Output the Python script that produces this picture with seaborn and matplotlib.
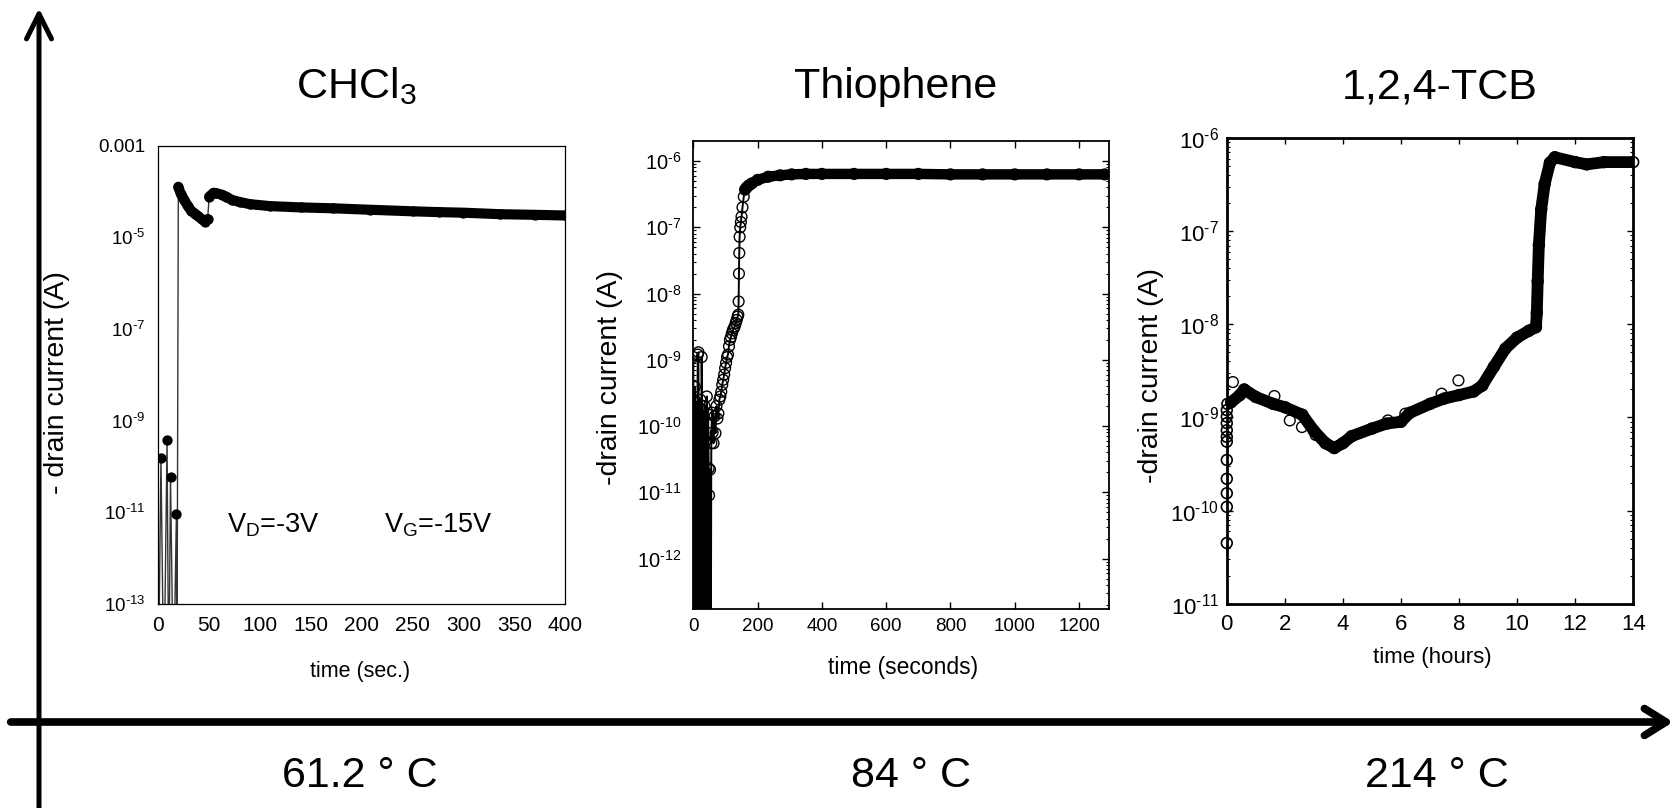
import matplotlib
matplotlib.use("Agg")
import matplotlib.pyplot as plt
from matplotlib.patches import FancyArrowPatch, ArrowStyle
from matplotlib.ticker import FixedLocator, FixedFormatter, NullLocator, LogLocator
import seaborn as sns

# ---------------- data ----------------
# CHCl3 panel: time (s), -drain current (A); 1e-15 = reading below the axis
chcl3_time = [0, 2.6, 5.5, 8.6, 10.3, 12.0, 14.9, 17.8, 18.3, 19.7, 22, 25.6, 29, 32.3, 36,
              39, 42.5, 45.8, 48.5, 50, 54.3, 57, 62.8, 67, 72, 80, 90, 110, 140, 172,
              208, 250, 276, 300, 336, 370, 400]
chcl3_current = [1e-15, 1.5e-10, 1e-15, 3.7e-10, 1e-15, 5.9e-11, 1e-15, 9.3e-12, 1e-15,
                 1.27e-4, 9e-5, 6.5e-5, 4.8e-5, 3.8e-5, 3.3e-5, 2.9e-5, 2.5e-5, 2.2e-5,
                 2.5e-5, 7.7e-5, 9.4e-5, 9.2e-5, 8.5e-5, 7.7e-5, 6.6e-5, 5.9e-5, 5.3e-5,
                 4.8e-5, 4.5e-5, 4.3e-5, 4.0e-5, 3.7e-5, 3.55e-5, 3.45e-5, 3.2e-5, 3.1e-5,
                 3.0e-5]
chcl3_trace_ranges = [(19.0, 48.6), (49.5, 401)]

# Thiophene panel: time (s), -drain current (A)
thio_time = [0, 2, 3, 4, 5, 7, 8, 9, 11, 12, 14, 16, 18, 20, 22, 24, 26, 27, 29, 31, 33,
             35, 38, 40, 42, 44, 46, 48, 49, 51, 52, 54, 56, 58, 60, 63, 66, 69, 72, 75,
             78, 81, 84, 87, 90, 93, 96, 99, 102, 105, 108, 111, 114, 117, 120, 123, 126,
             129, 132, 135, 138, 140, 141, 142, 143, 144, 146, 148, 150, 153, 157, 161,
             166, 173, 182, 200, 233, 270, 306, 350, 400, 500, 600, 700, 800, 900, 1000,
             1100, 1200, 1280]
thio_current = [1.1e-9, 1e-15, 2.3e-10, 1e-15, 3.9e-10, 5.5e-11, 1e-15, 2.3e-10, 1e-15,
                7.8e-11, 1.2e-9, 1.3e-9, 1e-15, 1.1e-10, 2.5e-10, 1e-15, 1.1e-9, 1.8e-10,
                1e-15, 1.7e-10, 1e-15, 2e-10, 6e-11, 1e-15, 2.8e-10, 1e-15, 1.5e-10,
                2.3e-11, 9e-12, 1e-15, 2.2e-11, 1e-15, 5.5e-11, 1.6e-10, 8e-11, 5.5e-11,
                1.4e-10, 7.8e-11, 2e-10, 1.3e-10, 1.55e-10, 2.5e-10, 2.8e-10, 3.3e-10,
                4.2e-10, 5e-10, 6e-10, 7.5e-10, 9e-10, 1.1e-9, 1.2e-9, 1.6e-9, 2e-9,
                2.2e-9, 2.5e-9, 2.8e-9, 3e-9, 3.2e-9, 3.6e-9, 4e-9, 4.5e-9, 4.8e-9, 7.6e-9,
                2e-8, 4.1e-8, 7.2e-8, 1e-7, 1.2e-7, 1.45e-7, 2e-7, 2.9e-7, 3.7e-7, 4e-7,
                4.3e-7, 4.6e-7, 5.2e-7, 5.8e-7, 6.1e-7, 6.3e-7, 6.4e-7, 6.4e-7, 6.4e-7,
                6.4e-7, 6.4e-7, 6.3e-7, 6.3e-7, 6.3e-7, 6.3e-7, 6.3e-7, 6.3e-7]
thio_trace_start = 160

# 1,2,4-TCB panel: time (hours), -drain current (A)
tcb_time = [0, 0, 0, 0, 0, 0, 0, 0, 0, 0, 0, 0.02, 0.15, 0.45, 0.6, 1.0, 1.6, 2.0, 2.6,
            3.0, 3.4, 3.7, 4.0, 4.3, 5.0, 5.5, 6.0, 6.3, 7.0, 7.5, 8.0, 8.5, 8.8, 9.2,
            9.6, 10.0, 10.4, 10.65, 10.68, 10.71, 10.75, 10.83, 10.95, 11.13, 11.3, 12.0,
            12.4, 13.0, 14.0]
tcb_current = [4.5e-11, 1.1e-10, 1.54e-10, 2.2e-10, 3.5e-10, 5.5e-10, 6.2e-10, 7.3e-10,
               8.7e-10, 1.02e-9, 1.2e-9, 1.4e-9, 1.46e-9, 1.74e-9, 2e-9, 1.66e-9, 1.4e-9,
               1.29e-9, 1.07e-9, 7.2e-10, 5.3e-10, 4.7e-10, 5.3e-10, 6.3e-10, 7.6e-10,
               8.6e-10, 9e-10, 1.12e-9, 1.4e-9, 1.6e-9, 1.74e-9, 1.9e-9, 2.2e-9, 3.5e-9,
               5.5e-9, 7.2e-9, 8.5e-9, 9.3e-9, 1.33e-8, 2.9e-8, 7.1e-8, 1.7e-7, 3.2e-7,
               5.4e-7, 6.2e-7, 5.5e-7, 5.2e-7, 5.5e-7, 5.5e-7]
tcb_outlier_time = [0.21, 1.64, 2.17, 2.59, 3.06, 5.55, 6.15, 7.4, 7.98]
tcb_outlier_current = [2.4e-9, 1.7e-9, 9.3e-10, 7.9e-10, 6.5e-10, 9.3e-10, 1.1e-9, 1.8e-9,
                       2.5e-9]
tcb_trace_start = 0.01

# texts / ticks
titles = ["CHCl$_3$", "Thiophene", "1,2,4-TCB"]
temperatures = ["61.2 \u00b0 C", "84 \u00b0 C", "214 \u00b0 C"]
xlabels = ["time (sec.)", "time (seconds)", "time (hours)"]
ylabels = ["- drain current (A)", "-drain current (A)", "-drain current (A)"]
p1_xticks = [0, 50, 100, 150, 200, 250, 300, 350, 400]
p1_yticks = [1e-13, 1e-11, 1e-9, 1e-7, 1e-5, 1e-3]
p1_ylabels = [r"10$^{\text{-}13}$", r"10$^{\text{-}11}$", r"10$^{\text{-}9}$",
              r"10$^{\text{-}7}$", r"10$^{\text{-}5}$", "0.001"]
p2_xticks = [0, 200, 400, 600, 800, 1000, 1200]
p2_yticks = [1e-12, 1e-11, 1e-10, 1e-9, 1e-8, 1e-7, 1e-6]
p2_ylabels = [r"10$^{\text{-}12}$", r"10$^{\text{-}11}$", r"10$^{\text{-}10}$",
              r"10$^{\text{-}9}$", r"10$^{\text{-}8}$", r"10$^{\text{-}7}$", r"10$^{\text{-}6}$"]
p3_xticks = [0, 2, 4, 6, 8, 10, 12, 14]
p3_yticks = [1e-11, 1e-10, 1e-9, 1e-8, 1e-7, 1e-6]
p3_ylabels = [r"10$^{\text{-}11}$", r"10$^{\text{-}10}$", r"10$^{\text{-}9}$",
              r"10$^{\text{-}8}$", r"10$^{\text{-}7}$", r"10$^{\text{-}6}$"]
vd_text = r"V$_{D}$=-3V"
vg_text = r"V$_{G}$=-15V"

# ---------------- style ----------------
sns.set_theme(style="white")
plt.rcParams["font.family"] = ["Liberation Sans", "DejaVu Sans"]
plt.rcParams["mathtext.fontset"] = "custom"
plt.rcParams["mathtext.rm"] = "Liberation Sans"
plt.rcParams["mathtext.it"] = "Liberation Sans:italic"
plt.rcParams["mathtext.bf"] = "Liberation Sans:bold"
plt.rcParams["mathtext.default"] = "regular"
plt.rcParams["text.color"] = "black"
plt.rcParams["axes.labelcolor"] = "black"
plt.rcParams["xtick.color"] = "black"
plt.rcParams["ytick.color"] = "black"

W, H = 1681, 808
fig = plt.figure(figsize=(W / 100, H / 100), dpi=100)
fig.patch.set_facecolor("white")


def axes_px(l, t, r, b):
    return fig.add_axes([l / W, 1 - b / H, (r - l) / W, (b - t) / H])


def subset(xs, ys, lo, hi):
    pts = [(x, y) for x, y in zip(xs, ys) if lo <= x <= hi]
    return [p[0] for p in pts], [p[1] for p in pts]


# ---------------- panel 1 : CHCl3 ----------------
ax1 = axes_px(158.3, 145.7, 565.2, 603.9)
sns.lineplot(x=chcl3_time, y=chcl3_current, ax=ax1, color="#333333", lw=1.0,
             sort=False, estimator=None)
for lo, hi in chcl3_trace_ranges:
    xs, ys = subset(chcl3_time, chcl3_current, lo, hi)
    sns.lineplot(x=xs, y=ys, ax=ax1, color="black", lw=7.3, sort=False, estimator=None,
                 solid_capstyle="round", solid_joinstyle="round")
sns.scatterplot(x=chcl3_time, y=chcl3_current, ax=ax1, color="black", s=55,
                linewidth=0, zorder=4)
ax1.set_yscale("log")
ax1.set_xlim(0, 400)
ax1.set_ylim(1e-13, 1e-3)
ax1.xaxis.set_major_locator(FixedLocator(p1_xticks))
ax1.yaxis.set_major_locator(FixedLocator(p1_yticks))
ax1.yaxis.set_major_formatter(FixedFormatter(p1_ylabels))
ax1.yaxis.set_minor_locator(NullLocator())
ax1.xaxis.set_minor_locator(NullLocator())
ax1.tick_params(axis="both", which="both", length=0)
ax1.tick_params(axis="y", labelsize=13.5, pad=9.5)
ax1.tick_params(axis="x", labelsize=15, pad=9)
for s in ax1.spines.values():
    s.set_color("black")
    s.set_linewidth(0.9)
ax1.text(0.169, 0.156, vd_text, transform=ax1.transAxes, fontsize=19.5, va="baseline")
ax1.text(0.554, 0.156, vg_text, transform=ax1.transAxes, fontsize=19.5, va="baseline")

# ---------------- panel 2 : Thiophene ----------------
ax2 = axes_px(693.3, 141.4, 1109.3, 608.6)
sns.lineplot(x=thio_time, y=thio_current, ax=ax2, color="black", lw=1.4,
             sort=False, estimator=None)
xs, ys = subset(thio_time, thio_current, thio_trace_start, 1e9)
sns.lineplot(x=xs, y=ys, ax=ax2, color="black", lw=7.5, sort=False, estimator=None,
             solid_capstyle="round", solid_joinstyle="round")
sns.scatterplot(x=thio_time, y=thio_current, ax=ax2, color="black", s=60,
                facecolors="none", edgecolor="black", linewidth=1.0, zorder=4)
ax2.set_yscale("log")
ax2.set_xlim(0, 1294)
ax2.set_ylim(10 ** -12.755, 10 ** -5.703)

# ---------------- panel 3 : 1,2,4-TCB ----------------
ax3 = axes_px(1226.8, 137.9, 1633.2, 603.9)
sns.lineplot(x=tcb_time, y=tcb_current, ax=ax3, color="black", lw=1.3,
             sort=False, estimator=None)
xs, ys = subset(tcb_time, tcb_current, tcb_trace_start, 1e9)
sns.lineplot(x=xs, y=ys, ax=ax3, color="black", lw=8.5, sort=False, estimator=None,
             solid_capstyle="round", solid_joinstyle="round")
sns.scatterplot(x=tcb_time, y=tcb_current, ax=ax3, color="black", s=60,
                facecolors="none", edgecolor="black", linewidth=1.2, zorder=4,
                clip_on=False)
sns.scatterplot(x=tcb_outlier_time, y=tcb_outlier_current, ax=ax3, color="black", s=60,
                facecolors="none", edgecolor="black", linewidth=1.0, zorder=4)
ax3.set_yscale("log")
ax3.set_xlim(0, 14)
ax3.set_ylim(1e-11, 1e-6)

for ax, xt, yt, yl, lw, maj, mnr, ypad, xpad, xls, yls in [
        (ax2, p2_xticks, p2_yticks, p2_ylabels, 1.3, 5, 2.2, 8.5, 7, 13.5, 14.5),
        (ax3, p3_xticks, p3_yticks, p3_ylabels, 2.0, 4, 2.2, 5.5, 7.5, 16, 16)]:
    ax.xaxis.set_major_locator(FixedLocator(xt))
    ax.xaxis.set_minor_locator(NullLocator())
    ax.yaxis.set_major_locator(FixedLocator(yt))
    ax.yaxis.set_major_formatter(FixedFormatter(yl))
    ax.yaxis.set_minor_locator(LogLocator(base=10, subs=range(2, 10), numticks=30))
    ax.tick_params(which="both", direction="in", top=True, right=True, left=True,
                   bottom=True, color="black", width=1.0)
    ax.tick_params(which="major", length=maj)
    ax.tick_params(which="minor", length=mnr, width=0.8)
    ax.tick_params(axis="y", labelsize=yls, pad=ypad)
    ax.tick_params(axis="x", labelsize=xls, pad=xpad)
    ax.yaxis.set_minor_formatter(FixedFormatter([]))
    for s in ax.spines.values():
        s.set_color("black")
        s.set_linewidth(lw)

# axis labels
label_specs = [(ax1, -0.217, 0.482, 0.496, -0.1246, 15.5),
               (ax2, -0.170, 0.494, 0.504, -0.101, 16.5),
               (ax3, -0.155, 0.491, 0.505, -0.092, 16)]
for (ax, yx, yy, xx, xy, fs), xl, yl in zip(label_specs, xlabels, ylabels):
    ax.set_xlabel(xl, fontsize=fs)
    ax.set_ylabel(yl, fontsize=20.5)
    ax.xaxis.set_label_coords(xx, xy)
    ax.yaxis.set_label_coords(yx, yy)
    ax.set_facecolor("white")

# ---------------- titles, temperatures, arrows ----------------
for x, t in zip([356.5, 895.7, 1440], titles):
    fig.text(x / W, 1 - 98.3 / H, t, ha="center", va="baseline", fontsize=31)
for x, t in zip([360, 911, 1437], temperatures):
    fig.text(x / W, 1 - 787 / H, t, ha="center", va="baseline", fontsize=31)

v_arrow = FancyArrowPatch((39 / W, 0.0), (39 / W, 1 - 8.3 / H),
                          transform=fig.transFigure,
                          arrowstyle=ArrowStyle("->", head_length=18, head_width=9),
                          lw=3.6, color="black", shrinkA=0, shrinkB=0,
                          capstyle="round", joinstyle="round")
h_arrow = FancyArrowPatch((10.7 / W, 1 - 722 / H), (1673.3 / W, 1 - 722 / H),
                          transform=fig.transFigure,
                          arrowstyle=ArrowStyle("->", head_length=15.6, head_width=9.7),
                          lw=5.5, color="black", shrinkA=0, shrinkB=0,
                          capstyle="round", joinstyle="round")
fig.add_artist(v_arrow)
fig.add_artist(h_arrow)

fig.savefig("out.png", dpi=100, facecolor="white")
